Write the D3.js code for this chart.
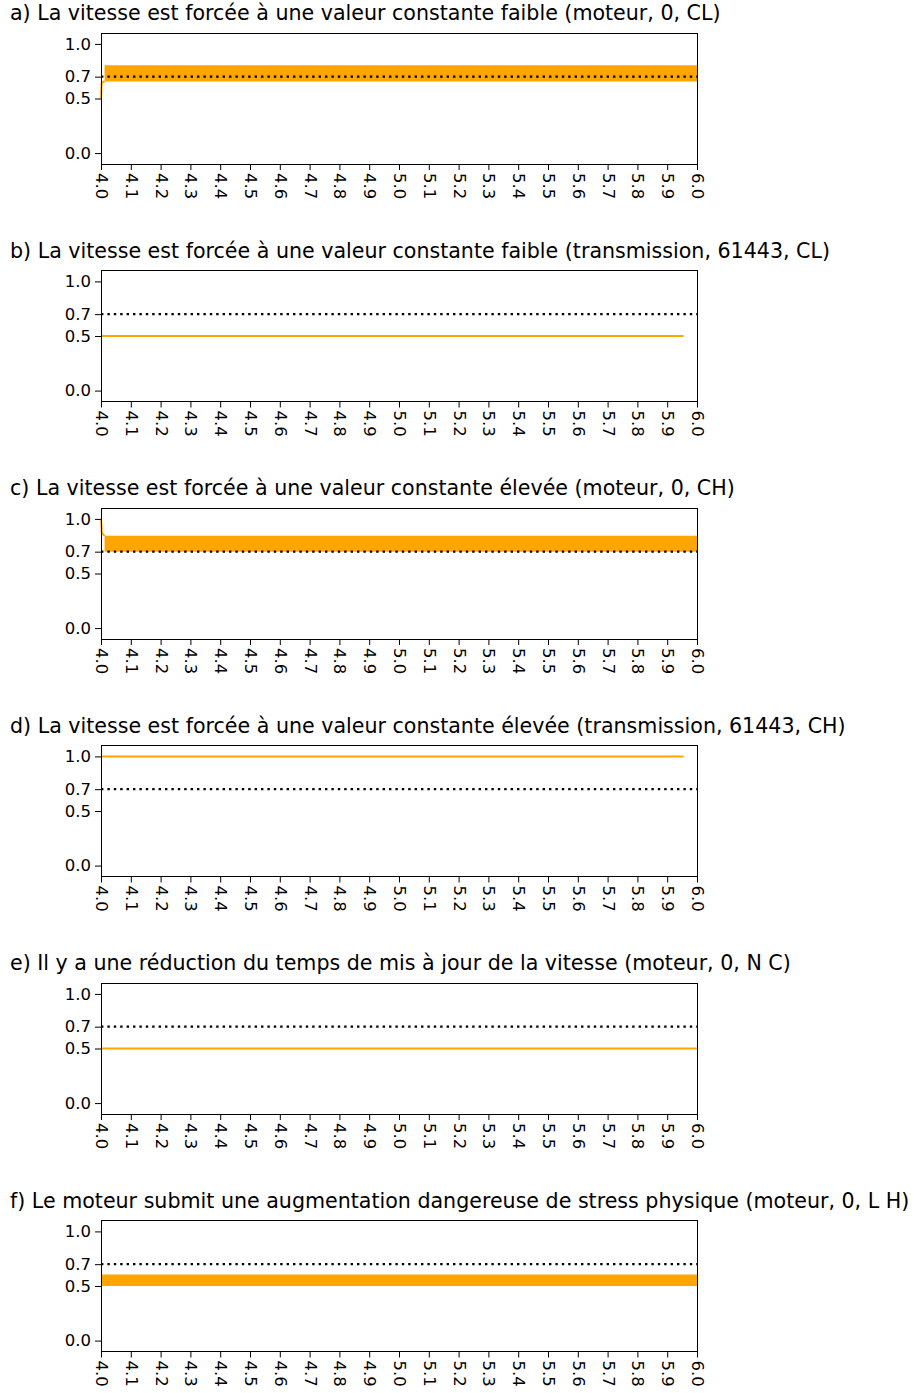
<!DOCTYPE html>
<meta charset="utf-8">
<script src="https://d3js.org/d3.v7.min.js"></script>
<style>
  body { margin: 0; background: #fff; }
  text { font-family: "DejaVu Sans", sans-serif; fill: #000; }
</style>
<div id="my_dataviz"></div>
<script>

// titles of the six panels
var titles = [
  "a) La vitesse est forcée à une valeur constante faible (moteur, 0, CL)",
  "b) La vitesse est forcée à une valeur constante faible (transmission, 61443, CL)",
  "c) La vitesse est forcée à une valeur constante élevée (moteur, 0, CH)",
  "d) La vitesse est forcée à une valeur constante élevée (transmission, 61443, CH)",
  "e) Il y a une réduction du temps de mis à jour de la vitesse (moteur, 0, N C)",
  "f) Le moteur submit une augmentation dangereuse de stress physique (moteur, 0, L H)"
];

var xTicks = [4.0, 4.1, 4.2, 4.3, 4.4, 4.5, 4.6, 4.7, 4.8, 4.9, 5.0, 5.1, 5.2, 5.3, 5.4, 5.5, 5.6, 5.7, 5.8, 5.9, 6.0];
var yTicks = [0.0, 0.5, 0.7, 1.0];
var threshold = 0.7;

// plain line part of each series (x, y)
var lineX = [[4.0, 4.002, 4.012], [4.0, 5.955], [4.0, 4.003, 4.012], [4.0, 5.955], [4.0, 6.0], []];
var lineY = [[0.5, 0.64, 0.66], [0.5, 0.5], [1.0, 0.87, 0.845], [1.0, 1.0], [0.5, 0.5], []];

// fast oscillation part, drawn as the band it fills (null = none)
var bandStart = [4.012, null, 4.012, null, null, 4.003];
var bandEnd   = [6.0,   null, 6.0,   null, null, 6.0];
var bandLow   = [0.655, null, 0.70,  null, null, 0.50];
var bandHigh  = [0.805, null, 0.845, null, null, 0.605];

// layout
var W = 919, H = 1393;
var left = 101, plotW = 596, plotH = 131, firstTop = 33, step = 237.5;

var svg = d3.select("#my_dataviz")
  .append("svg")
    .attr("width", W)
    .attr("height", H);

var x = d3.scaleLinear().domain([4, 6]).range([0, plotW]);
var y = d3.scaleLinear().domain([-0.1, 1.1]).range([plotH, 0]);

titles.forEach(function(title, i) {
  var top = firstTop + i * step;
  var g = svg.append("g")
    .attr("transform", "translate(" + left + "," + top + ")");

  // title
  svg.append("text")
    .attr("x", 10)
    .attr("y", top - 13)
    .style("font-size", "20.6px")
    .text(title);

  // band
  if (bandStart[i] !== null) {
    var bx = [bandStart[i], bandEnd[i]];
    g.append("path")
      .datum(bx)
      .attr("fill", "orange")
      .attr("d", d3.area()
        .x(function(d) { return x(d); })
        .y0(function() { return y(bandLow[i]); })
        .y1(function() { return y(bandHigh[i]); }));
  }

  // line
  if (lineX[i].length) {
    var pts = lineX[i].map(function(v, k) { return [v, lineY[i][k]]; });
    g.append("path")
      .datum(pts)
      .attr("fill", "none")
      .attr("stroke", "orange")
      .attr("stroke-width", 2)
      .attr("d", d3.line()
        .x(function(d) { return x(d[0]); })
        .y(function(d) { return y(d[1]); }));
  }

  // threshold
  g.append("line")
    .attr("x1", x(4)).attr("x2", x(6))
    .attr("y1", y(threshold)).attr("y2", y(threshold))
    .attr("stroke", "black")
    .attr("stroke-width", 2.4)
    .attr("stroke-dasharray", "2.4,4");

  // frame
  g.append("rect")
    .attr("width", plotW)
    .attr("height", plotH)
    .attr("fill", "none")
    .attr("stroke", "black")
    .attr("stroke-width", 1)
    .attr("shape-rendering", "crispEdges");

  // y axis
  var yAxis = g.append("g")
    .call(d3.axisLeft(y).tickValues(yTicks).tickFormat(d3.format(".1f")).tickSize(6).tickPadding(4));
  yAxis.select(".domain").remove();
  yAxis.selectAll("text").style("font-size", "16.5px").attr("font-family", null);

  // x axis with rotated labels
  var xAxis = g.append("g")
    .attr("transform", "translate(0," + plotH + ")")
    .call(d3.axisBottom(x).tickValues(xTicks).tickFormat(d3.format(".1f")).tickSize(6));
  xAxis.select(".domain").remove();
  xAxis.selectAll("text")
    .style("font-size", "16.5px")
    .attr("font-family", null)
    .attr("text-anchor", "start")
    .attr("dy", null)
    .attr("y", 0)
    .attr("x", 0)
    .attr("dominant-baseline", "central")
    .attr("transform", "translate(0,9) rotate(90)");
});
</script>
